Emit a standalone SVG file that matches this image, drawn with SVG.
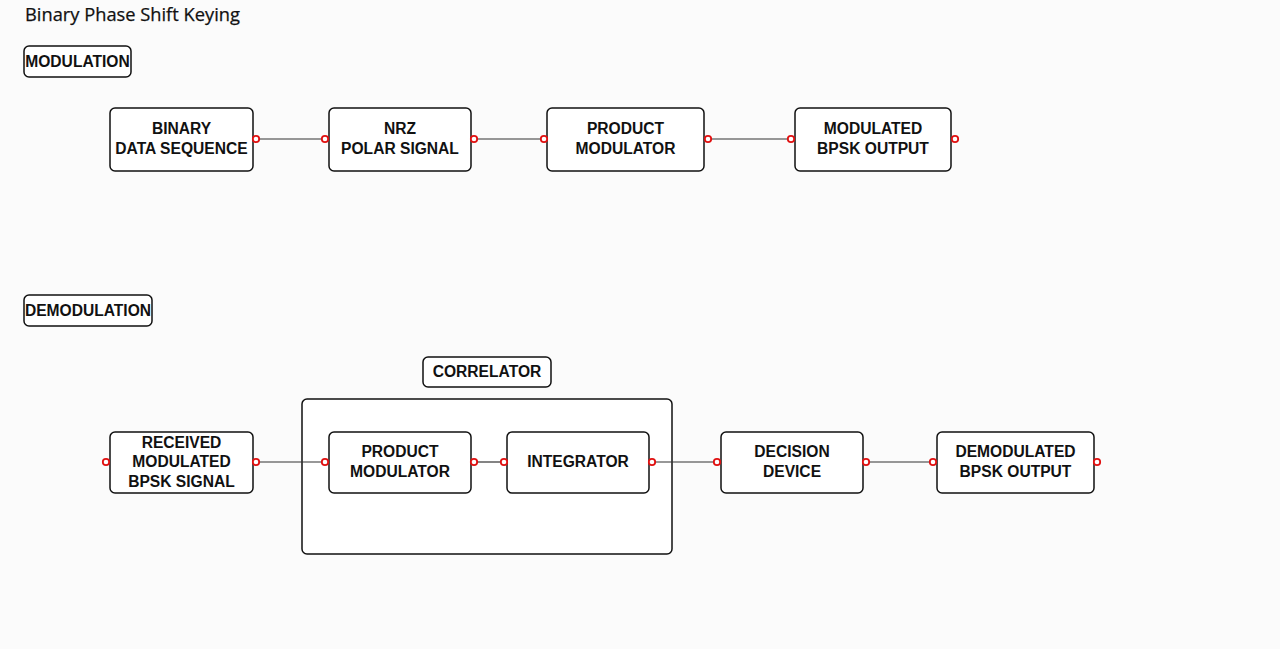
<svg xmlns="http://www.w3.org/2000/svg" width="1280" height="649" viewBox="0 0 1280 649">
<style>
.bg{fill:#fbfbfb}
.box{fill:#ffffff;stroke:#111;stroke-width:1.5}
.lbl{font-family:"Liberation Sans",Arial,sans-serif;font-weight:bold;font-size:15.6px;fill:#111;text-anchor:middle}
.title{font-family:"Open Sans","Liberation Sans",sans-serif;font-size:18.3px;fill:#111;stroke:#111;stroke-width:0.25}
.wire{stroke:#333;stroke-width:1.2;fill:none}
.port{fill:#fff;stroke:#e01010;stroke-width:1.8}
</style>
<rect class="bg" x="0" y="0" width="1280" height="649"/>
<text class="title" x="25" y="21">Binary Phase Shift Keying</text>

<g id="modulation-label">
<rect class="box" x="24" y="46" width="107" height="31" rx="5"/>
<text class="lbl" x="77.5" y="66.5">MODULATION</text>
</g>
<g id="demodulation-label">
<rect class="box" x="24" y="295" width="128" height="31" rx="5"/>
<text class="lbl" x="88" y="315.5">DEMODULATION</text>
</g>
<g id="correlator-label">
<rect class="box" x="423" y="357" width="128" height="30" rx="5"/>
<text class="lbl" x="487" y="377">CORRELATOR</text>
</g>
<g id="correlator">
<rect class="box" x="302" y="399" width="370" height="155" rx="5"/>
</g>

<g id="connectors">
<line class="wire" x1="256" y1="139" x2="325" y2="139"/>
<line class="wire" x1="474" y1="139" x2="544" y2="139"/>
<line class="wire" x1="708" y1="139" x2="791" y2="139"/>
<line class="wire" x1="256" y1="462" x2="325" y2="462"/>
<line class="wire" x1="474" y1="462" x2="504" y2="462"/>
<line class="wire" x1="652" y1="462" x2="717" y2="462"/>
<line class="wire" x1="866" y1="462" x2="933" y2="462"/>
</g>

<g id="binary-data">
<rect class="box" x="110" y="108" width="143" height="63" rx="5"/>
<text class="lbl" x="181.5" y="134">BINARY</text>
<text class="lbl" x="181.5" y="154">DATA SEQUENCE</text>
</g>
<g id="nrz">
<rect class="box" x="329" y="108" width="142" height="63" rx="5"/>
<text class="lbl" x="400" y="134">NRZ</text>
<text class="lbl" x="400" y="154">POLAR SIGNAL</text>
</g>
<g id="product-mod-1">
<rect class="box" x="547" y="108" width="157" height="63" rx="5"/>
<text class="lbl" x="625.5" y="134">PRODUCT</text>
<text class="lbl" x="625.5" y="154">MODULATOR</text>
</g>
<g id="bpsk-output">
<rect class="box" x="795" y="108" width="156" height="63" rx="5"/>
<text class="lbl" x="873" y="134">MODULATED</text>
<text class="lbl" x="873" y="154">BPSK OUTPUT</text>
</g>

<g id="received">
<rect class="box" x="110" y="432" width="143" height="61" rx="5"/>
<text class="lbl" x="181.5" y="447.5">RECEIVED</text>
<text class="lbl" x="181.5" y="467">MODULATED</text>
<text class="lbl" x="181.5" y="486.5">BPSK SIGNAL</text>
</g>
<g id="product-mod-2">
<rect class="box" x="329" y="432" width="142" height="61" rx="5"/>
<text class="lbl" x="400" y="457">PRODUCT</text>
<text class="lbl" x="400" y="477">MODULATOR</text>
</g>
<g id="integrator">
<rect class="box" x="507" y="432" width="142" height="61" rx="5"/>
<text class="lbl" x="578" y="467">INTEGRATOR</text>
</g>
<g id="decision">
<rect class="box" x="721" y="432" width="142" height="61" rx="5"/>
<text class="lbl" x="792" y="457">DECISION</text>
<text class="lbl" x="792" y="477">DEVICE</text>
</g>
<g id="demod-output">
<rect class="box" x="937" y="432" width="157" height="61" rx="5"/>
<text class="lbl" x="1015.5" y="457">DEMODULATED</text>
<text class="lbl" x="1015.5" y="477">BPSK OUTPUT</text>
</g>

<g id="ports">
<circle class="port" cx="256" cy="139" r="3.2"/>
<circle class="port" cx="325" cy="139" r="3.2"/>
<circle class="port" cx="474" cy="139" r="3.2"/>
<circle class="port" cx="544" cy="139" r="3.2"/>
<circle class="port" cx="708" cy="139" r="3.2"/>
<circle class="port" cx="791" cy="139" r="3.2"/>
<circle class="port" cx="955" cy="139" r="3.2"/>
<circle class="port" cx="106" cy="462" r="3.2"/>
<circle class="port" cx="256" cy="462" r="3.2"/>
<circle class="port" cx="325" cy="462" r="3.2"/>
<circle class="port" cx="474" cy="462" r="3.2"/>
<circle class="port" cx="504" cy="462" r="3.2"/>
<circle class="port" cx="652" cy="462" r="3.2"/>
<circle class="port" cx="717" cy="462" r="3.2"/>
<circle class="port" cx="866" cy="462" r="3.2"/>
<circle class="port" cx="933" cy="462" r="3.2"/>
<circle class="port" cx="1097" cy="462" r="3.2"/>
</g>
</svg>
